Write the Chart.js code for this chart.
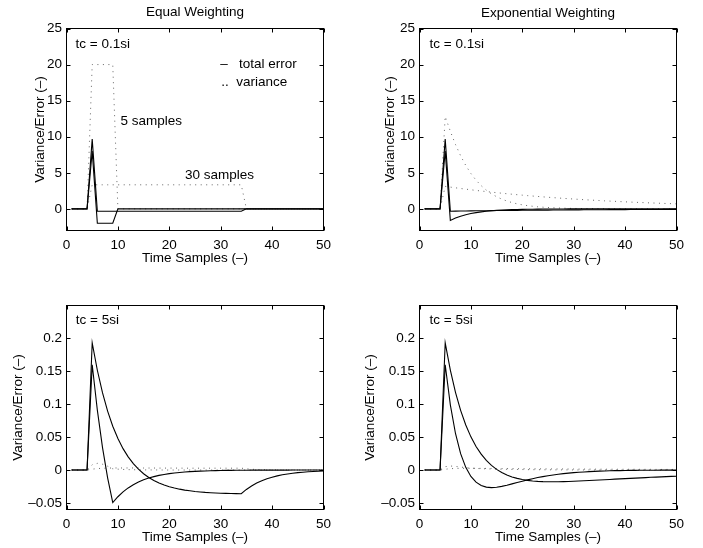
<!DOCTYPE html>
<html><head><meta charset="utf-8">
<script src="https://cdn.jsdelivr.net/npm/chart.js@4.4.0/dist/chart.umd.min.js"></script>
<style>
html,body{margin:0;padding:0;background:#fff;}
#wrap{position:relative;width:703px;height:548px;overflow:hidden;background:#fff;}
canvas{position:absolute;}
</style></head><body>
<div id="wrap">
<canvas id="c1" width="351" height="274" style="left:0;top:0"></canvas>
<canvas id="c2" width="352" height="274" style="left:351px;top:0"></canvas>
<canvas id="c3" width="351" height="274" style="left:0;top:274px"></canvas>
<canvas id="c4" width="352" height="274" style="left:351px;top:274px"></canvas>
</div>
<script>
// ---- data ----
const timeSamples = [1,2,3,4,5,6,7,8,9,10,11,12,13,14,15,16,17,18,19,20,21,22,23,24,25,26,27,28,29,30,31,32,33,34,35,36,37,38,39,40,41,42,43,44,45,46,47,48,49,50];
const xTicks = [0,10,20,30,40,50];
const yTicksTop = [0,5,10,15,20,25];
const yTicksBottom = [-0.05,0,0.05,0.1,0.15,0.2];

// Equal weighting, tc = 0.1si
const eqErr5Fast  = [0,0,0,0,8,-2,-2,-2,-2,0,0,0,0,0,0,0,0,0,0,0,0,0,0,0,0,0,0,0,0,0,0,0,0,0,0,0,0,0,0,0,0,0,0,0,0,0,0,0,0,0];
const eqErr30Fast = [0,0,0,0,9.667,-0.333,-0.333,-0.333,-0.333,-0.333,-0.333,-0.333,-0.333,-0.333,-0.333,-0.333,-0.333,-0.333,-0.333,-0.333,-0.333,-0.333,-0.333,-0.333,-0.333,-0.333,-0.333,-0.333,-0.333,-0.333,-0.333,-0.333,-0.333,-0.333,0,0,0,0,0,0,0,0,0,0,0,0,0,0,0,0];
const eqVar5Fast  = [0,0,0,0,20,20,20,20,20,0,0,0,0,0,0,0,0,0,0,0,0,0,0,0,0,0,0,0,0,0,0,0,0,0,0,0,0,0,0,0,0,0,0,0,0,0,0,0,0,0];
const eqVar30Fast = [0,0,0,0,3.333,3.333,3.333,3.333,3.333,3.333,3.333,3.333,3.333,3.333,3.333,3.333,3.333,3.333,3.333,3.333,3.333,3.333,3.333,3.333,3.333,3.333,3.333,3.333,3.333,3.333,3.333,3.333,3.333,3.333,0,0,0,0,0,0,0,0,0,0,0,0,0,0,0,0];

// Exponential weighting, tc = 0.1si
const expErr5Fast  = [0,0,0,0,8,-1.6,-1.28,-1.024,-0.819,-0.655,-0.524,-0.419,-0.336,-0.268,-0.215,-0.172,-0.137,-0.11,-0.088,-0.07,-0.056,-0.045,-0.036,-0.029,-0.023,-0.018,-0.015,-0.012,-0.009,-0.008,-0.006,-0.005,-0.004,-0.003,-0.002,-0.002,-0.002,-0.001,-0.001,-0.001,-0.001,0,0,0,0,0,0,0,0,0];
const expErr30Fast = [0,0,0,0,9.667,-0.322,-0.312,-0.301,-0.291,-0.281,-0.272,-0.263,-0.254,-0.246,-0.238,-0.23,-0.222,-0.215,-0.207,-0.201,-0.194,-0.187,-0.181,-0.175,-0.169,-0.164,-0.158,-0.153,-0.148,-0.143,-0.138,-0.134,-0.129,-0.125,-0.121,-0.117,-0.113,-0.109,-0.105,-0.102,-0.098,-0.095,-0.092,-0.089,-0.086,-0.083,-0.08,-0.078,-0.075,-0.073];
const expVar5Fast  = [0,0,0,0,12.8,10.752,8.929,7.353,6.017,4.899,3.974,3.215,2.594,2.09,1.681,1.351,1.084,0.87,0.697,0.559,0.448,0.359,0.287,0.23,0.184,0.147,0.118,0.094,0.075,0.06,0.048,0.039,0.031,0.025,0.02,0.016,0.013,0.01,0.008,0.006,0.005,0.004,0.003,0.003,0.002,0.002,0.001,0.001,0.001,0.001];
const expVar30Fast = [0,0,0,0,3.115,3.015,2.917,2.823,2.732,2.643,2.558,2.475,2.394,2.317,2.241,2.168,2.098,2.029,1.963,1.899,1.837,1.777,1.719,1.663,1.608,1.556,1.505,1.455,1.407,1.361,1.316,1.273,1.231,1.191,1.152,1.114,1.077,1.042,1.007,0.974,0.942,0.911,0.881,0.852,0.823,0.796,0.77,0.744,0.72,0.696];

// Equal weighting, tc = 5si
const eqErr5Slow  = [0,0,0,0,0.16,0.091,0.0345,-0.0118,-0.0496,-0.0406,-0.0333,-0.0272,-0.0223,-0.0183,-0.0149,-0.0122,-0.01,-0.0082,-0.0067,-0.0055,-0.0045,-0.0037,-0.003,-0.0025,-0.002,-0.0017,-0.0014,-0.0011,-0.0009,-0.0007,-0.0006,-0.0005,-0.0004,-0.0003,-0.0003,-0.0002,-0.0002,-0.0002,-0.0001,-0.0001,-0.0001,-0.0001,-0.0001,0,0,0,0,0,0,0];
const eqErr30Slow = [0,0,0,0,0.1933,0.1516,0.1175,0.0895,0.0666,0.0479,0.0325,0.02,0.0097,0.0013,-0.0056,-0.0113,-0.0159,-0.0197,-0.0228,-0.0253,-0.0274,-0.0291,-0.0305,-0.0316,-0.0326,-0.0333,-0.034,-0.0345,-0.0349,-0.0352,-0.0355,-0.0357,-0.0359,-0.0361,-0.0295,-0.0242,-0.0198,-0.0162,-0.0133,-0.0109,-0.0089,-0.0073,-0.006,-0.0049,-0.004,-0.0033,-0.0027,-0.0022,-0.0018,-0.0015];
const eqVar5Slow  = [0,0,0,0,0.008,0.0101,0.0088,0.0058,0.0019,0.0013,0.0009,0.0006,0.0004,0.0003,0.0002,0.0001,0.0001,0.0001,0,0,0,0,0,0,0,0,0,0,0,0,0,0,0,0,0,0,0,0,0,0,0,0,0,0,0,0,0,0,0,0];
const eqVar30Slow = [0,0,0,0,0.0013,0.0022,0.0026,0.0029,0.0031,0.0031,0.0031,0.0031,0.0031,0.0031,0.003,0.003,0.003,0.0029,0.0029,0.0029,0.0029,0.0029,0.0028,0.0028,0.0028,0.0028,0.0028,0.0028,0.0028,0.0028,0.0028,0.0028,0.0028,0.0028,0.0019,0.0012,0.0008,0.0006,0.0004,0.0003,0.0002,0.0001,0.0001,0.0001,0,0,0,0,0,0];

// Exponential weighting, tc = 5si
const expErr5Slow  = [0,0,0,0,0.16,0.099,0.0555,0.0249,0.004,-0.0098,-0.0185,-0.0236,-0.026,-0.0267,-0.0261,-0.0248,-0.0231,-0.0211,-0.019,-0.017,-0.015,-0.0132,-0.0115,-0.01,-0.0087,-0.0075,-0.0064,-0.0055,-0.0047,-0.004,-0.0034,-0.0029,-0.0024,-0.0021,-0.0017,-0.0015,-0.0012,-0.001,-0.0009,-0.0007,-0.0006,-0.0005,-0.0004,-0.0004,-0.0003,-0.0003,-0.0002,-0.0002,-0.0001,-0.0001];
const expErr30Slow = [0,0,0,0,0.1933,0.1519,0.1181,0.0907,0.0684,0.0504,0.0358,0.0241,0.0146,0.007,0.001,-0.0038,-0.0075,-0.0105,-0.0127,-0.0144,-0.0157,-0.0166,-0.0172,-0.0176,-0.0178,-0.0178,-0.0178,-0.0176,-0.0174,-0.0171,-0.0167,-0.0164,-0.016,-0.0156,-0.0152,-0.0148,-0.0143,-0.0139,-0.0135,-0.0131,-0.0127,-0.0123,-0.0119,-0.0115,-0.0111,-0.0108,-0.0104,-0.0101,-0.0097,-0.0094];
const expVar5Slow  = [0,0,0,0,0.0051,0.0061,0.0055,0.0045,0.0036,0.0029,0.0024,0.002,0.0018,0.0015,0.0014,0.0012,0.0011,0.0009,0.0008,0.0007,0.0006,0.0005,0.0005,0.0004,0.0003,0.0003,0.0002,0.0002,0.0002,0.0001,0.0001,0.0001,0.0001,0.0001,0,0,0,0,0,0,0,0,0,0,0,0,0,0,0,0];
const expVar30Slow = [0,0,0,0,0.0012,0.002,0.0024,0.0026,0.0026,0.0026,0.0026,0.0025,0.0024,0.0024,0.0023,0.0022,0.0021,0.0021,0.002,0.0019,0.0019,0.0018,0.0018,0.0017,0.0017,0.0016,0.0016,0.0016,0.0015,0.0015,0.0014,0.0014,0.0014,0.0013,0.0013,0.0012,0.0012,0.0012,0.0011,0.0011,0.0011,0.0011,0.001,0.001,0.001,0.0009,0.0009,0.0009,0.0009,0.0008];

// ---- drawing ----
const FONT = 'Liberation Sans, Arial, Helvetica, sans-serif';
const FS = 13.5;

function pts(arr){ return timeSamples.map((t,i)=>({x:t, y:arr[i]})); }
function solid(arr){ return {data:pts(arr), borderColor:'#000', borderWidth:1.1, pointRadius:0, tension:0, fill:false}; }
function dotted(arr){ return {data:pts(arr), borderColor:'#666', borderWidth:1, borderDash:[1,4.5], pointRadius:0, tension:0, fill:false}; }
function fmt(v){ const s = String(Number(v.toFixed(3))); return s.replace('-', '\u2013'); }

const framePlugin = {
  id: 'frame',
  afterDatasetsDraw(chart, args, o) {
    const ctx = chart.ctx, a = chart.chartArea, xs = chart.scales.x, ys = chart.scales.y;
    ctx.save();
    ctx.strokeStyle = '#000'; ctx.lineWidth = 1; ctx.setLineDash([]);
    ctx.strokeRect(a.left, a.top, a.right - a.left, a.bottom - a.top);
    const L = 4;
    ctx.beginPath();
    xs.ticks.forEach(t => {
      const px = Math.round(xs.getPixelForValue(t.value)) + 0.5;
      ctx.moveTo(px, a.bottom); ctx.lineTo(px, a.bottom - L);
      ctx.moveTo(px, a.top); ctx.lineTo(px, a.top + L);
    });
    ys.ticks.forEach(t => {
      const py = Math.round(ys.getPixelForValue(t.value)) + 0.5;
      ctx.moveTo(a.left, py); ctx.lineTo(a.left + L, py);
      ctx.moveTo(a.right, py); ctx.lineTo(a.right - L, py);
    });
    ctx.stroke();
    ctx.fillStyle = '#000';
    ctx.font = FS + 'px ' + FONT;
    ctx.textBaseline = 'middle';
    ctx.textAlign = 'center';
    const cx = (a.left + a.right) / 2, cy = (a.top + a.bottom) / 2;
    if (o.title) ctx.fillText(o.title, cx, o.titleY);
    ctx.fillText('Time Samples (\u2013)', cx, o.xlabelY);
    ctx.save();
    ctx.translate(o.ylabelX, cy); ctx.rotate(-Math.PI / 2);
    ctx.fillText('Variance/Error (\u2013)', 0, 0);
    ctx.restore();
    ctx.textAlign = 'left';
    (o.notes || []).forEach(n => ctx.fillText(n.text, xs.getPixelForValue(n.x), ys.getPixelForValue(n.y)));
    ctx.restore();
  }
};

function makeChart(id, datasets, cfg) {
  new Chart(document.getElementById(id), {
    type: 'line',
    data: { datasets },
    plugins: [framePlugin],
    options: {
      responsive: false, animation: false, devicePixelRatio: 1,
      layout: { padding: { left: 0, top: cfg.top, right: cfg.right, bottom: 0 } },
      plugins: { legend: { display: false }, tooltip: { enabled: false }, title: { display: false },
        frame: { title: cfg.title, titleY: cfg.titleY, xlabelY: cfg.xlabelY, ylabelX: cfg.ylabelX, notes: cfg.notes } },
      elements: { point: { radius: 0 }, line: { tension: 0 } },
      scales: {
        x: { type: 'linear', min: 0, max: 50,
             afterBuildTicks: s => { s.ticks = xTicks.map(v => ({ value: v })); },
             afterFit: s => { s.height = cfg.xh; },
             grid: { display: false, drawTicks: false }, border: { display: false },
             ticks: { color: '#000', font: { family: FONT, size: FS }, padding: 6.5, maxRotation: 0, callback: v => fmt(v) } },
        y: { type: 'linear', min: cfg.ymin, max: cfg.ymax,
             afterBuildTicks: s => { s.ticks = cfg.yticks.map(v => ({ value: v })); },
             afterFit: s => { s.width = cfg.yw; },
             grid: { display: false, drawTicks: false }, border: { display: false },
             ticks: { color: '#000', font: { family: FONT, size: FS }, padding: 4.5, callback: v => fmt(v) } }
      }
    }
  });
}

makeChart('c1', [solid(eqErr5Fast), solid(eqErr30Fast), dotted(eqVar5Fast), dotted(eqVar30Fast)], {
  top: 28.5, right: 27.5, yw: 66.5, xh: 43.5, ymin: -3, ymax: 25, yticks: yTicksTop,
  title: 'Equal Weighting', titleY: 12.5, xlabelY: 258, ylabelX: 40,
  notes: [ {x: 1.75, y: 22.8, text: 'tc = 0.1si'}, {x: 29.9, y: 20, text: '\u2013   total error'},
           {x: 30.1, y: 17.5, text: '..  variance'}, {x: 10.5, y: 12.2, text: '5 samples'},
           {x: 23.05, y: 4.6, text: '30 samples'} ]
});
makeChart('c2', [solid(expErr5Fast), solid(expErr30Fast), dotted(expVar5Fast), dotted(expVar30Fast)], {
  top: 28.5, right: 26.5, yw: 68.5, xh: 43.5, ymin: -3, ymax: 25, yticks: yTicksTop,
  title: 'Exponential Weighting', titleY: 13, xlabelY: 258, ylabelX: 39,
  notes: [ {x: 1.95, y: 22.8, text: 'tc = 0.1si'} ]
});
makeChart('c3', [solid(eqErr5Slow), solid(eqErr30Slow), dotted(eqVar5Slow), dotted(eqVar30Slow)], {
  top: 31.5, right: 27.5, yw: 66.5, xh: 38.5, ymin: -0.06, ymax: 0.25, yticks: yTicksBottom,
  title: '', titleY: 0, xlabelY: 263, ylabelX: 18.5,
  notes: [ {x: 1.82, y: 0.228, text: 'tc = 5si'} ]
});
makeChart('c4', [solid(expErr5Slow), solid(expErr30Slow), dotted(expVar5Slow), dotted(expVar30Slow)], {
  top: 31.5, right: 26.5, yw: 68.5, xh: 38.5, ymin: -0.06, ymax: 0.25, yticks: yTicksBottom,
  title: '', titleY: 0, xlabelY: 263, ylabelX: 19.5,
  notes: [ {x: 1.95, y: 0.228, text: 'tc = 5si'} ]
});
</script>
</body></html>
